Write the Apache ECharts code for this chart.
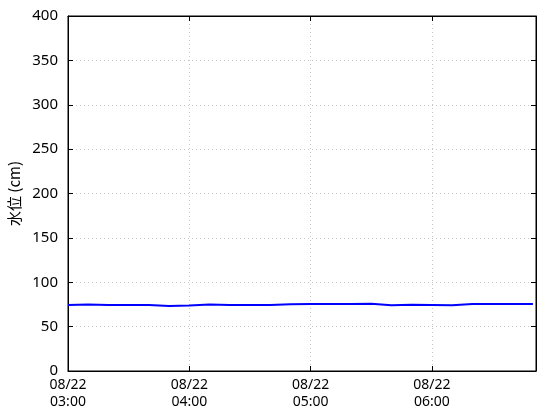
<!DOCTYPE html>
<html>
<head>
<meta charset="utf-8">
<script src="https://cdn.jsdelivr.net/npm/echarts@6/dist/echarts.min.js"></script>
<style>html,body{margin:0;padding:0;background:#fff}#c{width:560px;height:420px}</style>
</head>
<body>
<div id="c"></div>
<script>
var dateLabel = "08/22";
var times = ["03:00","03:10","03:20","03:30","03:40","03:50","04:00","04:10","04:20","04:30","04:40","04:50",
             "05:00","05:10","05:20","05:30","05:40","05:50","06:00","06:10","06:20","06:30","06:40","06:50"];
var levels = [74.5,75,74.5,74.5,74.5,73.2,73.8,74.8,74.5,74.5,74.5,75.3,
              75.5,75.5,75.5,75.9,74,74.6,74.5,74.2,75.4,75.5,75.5,75.5];
var tickTimes = ["03:00","04:00","05:00","06:00"];
var yMin = 0, yMax = 400, yStep = 50;
var axisName = "水位 (cm)";
var xMaxMinutes = 231.5;

function toMin(t){var p=t.split(":");return (+p[0]-3)*60+(+p[1]);}
function fmt(m){var h=3+Math.floor(m/60), mm=Math.round(m%60);return dateLabel+"\n"+(h<10?"0":"")+h+":"+(mm<10?"0":"")+mm;}
var data = times.map(function(t,i){return [toMin(t), levels[i]];});
var tickVals = tickTimes.map(toMin);

var font = "'Noto Sans', sans-serif";
var chart = echarts.init(document.getElementById('c'));
var tickStyle = {show:true, inside:true, length:5, lineStyle:{color:'#000', width:1}};
var splitStyle = {show:true, lineStyle:{color:'#c8c8c8', type:[1,3], width:1}};
chart.setOption({
  animation:false,
  grid:{left:68, right:24, top:16, bottom:49, outerBoundsMode:'none', containLabel:false,
        show:true, borderColor:'#000', borderWidth:1, backgroundColor:'transparent'},
  xAxis:[{type:'value', min:0, max:xMaxMinutes, interval:60,
    axisLine:{show:true, onZero:false, lineStyle:{color:'#000'}},
    axisTick:Object.assign({customValues:tickVals}, tickStyle), splitLine:splitStyle,
    axisLabel:{color:'#000', fontFamily:font, fontSize:14, lineHeight:17, margin:6,
      customValues:tickVals, formatter:function(v){return fmt(v);}}},
    {type:'value', position:'top', min:0, max:xMaxMinutes, interval:60,
    axisLine:{show:true, onZero:false, lineStyle:{color:'#000'}},
    axisTick:Object.assign({customValues:tickVals}, tickStyle), splitLine:{show:false}, axisLabel:{show:false}}],
  yAxis:[{type:'value', min:yMin, max:yMax, interval:yStep,
    name:axisName, nameLocation:'middle', nameGap:46, nameRotate:90,
    nameTextStyle:{color:'#000', fontFamily:"'Noto Sans CJK JP', sans-serif", fontSize:15},
    axisLine:{show:true, onZero:false, lineStyle:{color:'#000'}}, axisTick:tickStyle, splitLine:splitStyle,
    axisLabel:{color:'#000', fontFamily:font, fontSize:15, margin:10}},
    {type:'value', position:'right', min:yMin, max:yMax, interval:yStep,
    axisLine:{show:true, onZero:false, lineStyle:{color:'#000'}}, axisTick:tickStyle, splitLine:{show:false}, axisLabel:{show:false}}],
  series:[{type:'line', data:data, showSymbol:false, symbol:'none', smooth:false,
    lineStyle:{color:'#0000ff', width:2}, xAxisIndex:0, yAxisIndex:0}]
});
</script>
</body>
</html>
